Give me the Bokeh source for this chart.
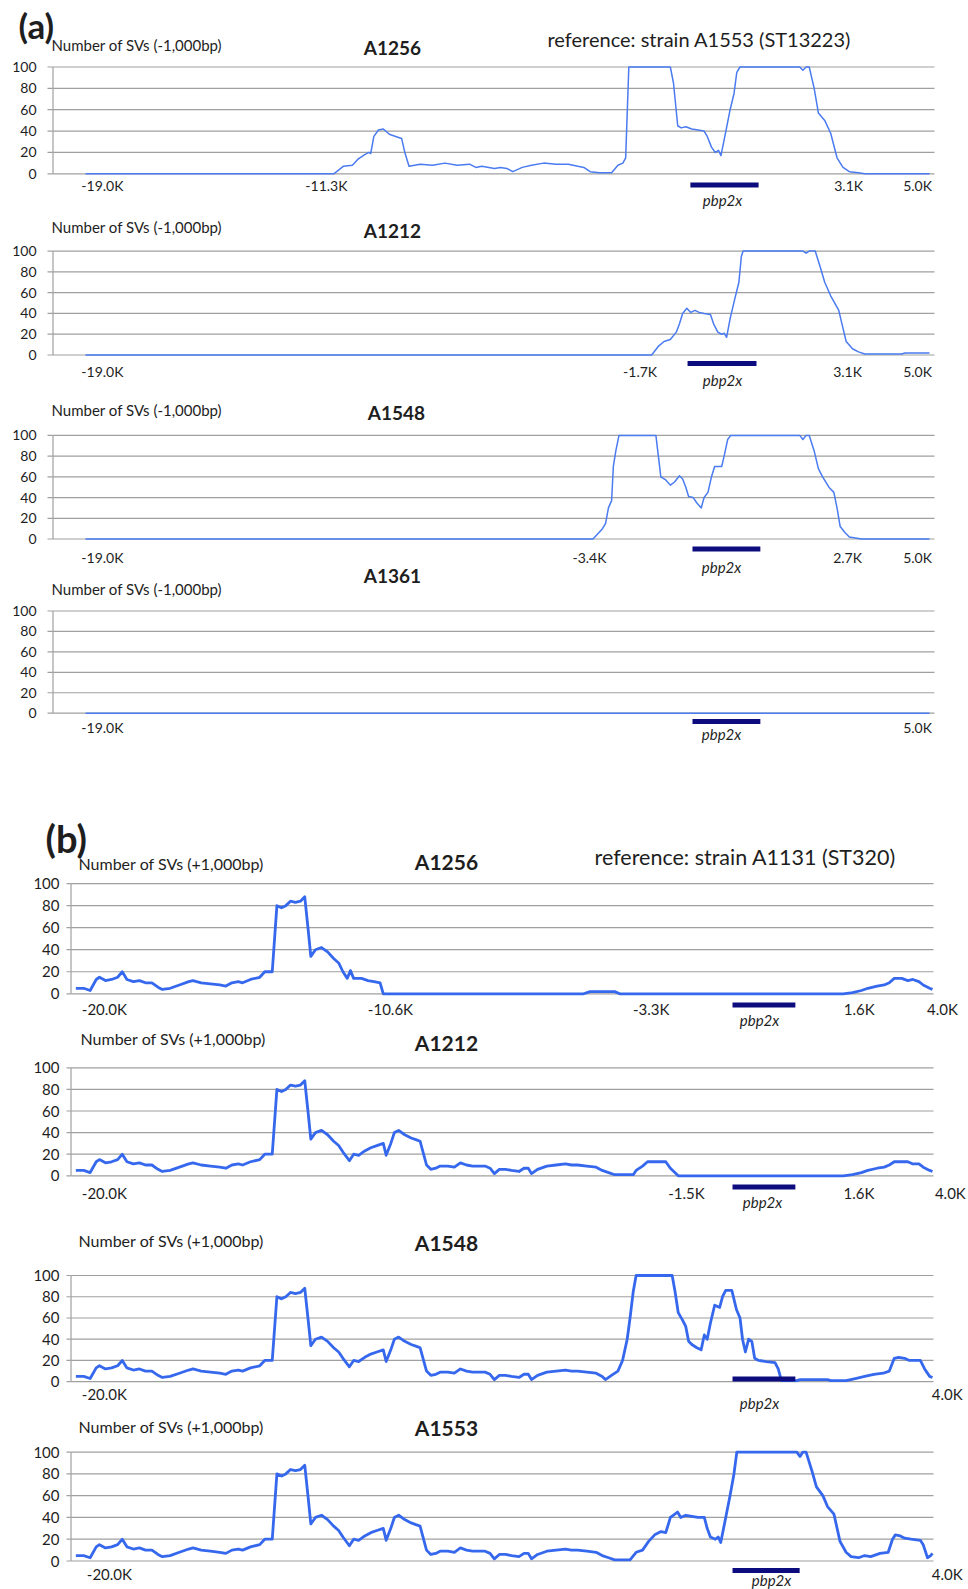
from bokeh.plotting import figure
from bokeh.models import Range1d
from bokeh.core.properties import value
from bokeh.embed import file_html
from bokeh.resources import INLINE

# ---------------- DATA ----------------
# x = 100-bp window index along the region (0 = left end of the plotted region)
# (a) reference: strain A1553 (ST13223), "-1,000bp"
A1256_A_X = [0, 70.6, 73.3, 75.9, 77.6, 79.4, 80.6, 81.1, 82.0, 83.3, 84.7, 86.4, 88.2, 89.9, 90.8, 92.0,
             95.2, 98.7, 102.2, 105.7, 109.2, 111.0, 112.7, 116.3, 118.0, 119.8, 121.5, 124.2, 126.8, 130.3,
             133.8, 137.3, 140.0, 141.7, 143.5, 146.1, 149.6, 151.4, 152.8, 153.6, 154.5, 166.3, 167.2, 168.4,
             169.4, 170.7, 172.4, 174.2, 175.9, 176.8, 178.0, 179.1, 180.0, 180.7, 182.1, 183.3, 184.4, 185.2,
             186.1, 203.1, 204.0, 204.9, 205.8, 207.2, 208.4, 210.2, 211.9, 213.7, 215.4, 217.2, 219.8, 221.6, 240]
A1256_A_Y = [0, 0, 7, 8, 14, 18, 20, 19, 35, 41, 42, 37, 35, 33, 20, 7,
             9, 8, 10, 8, 9, 6, 7, 5, 6, 5, 2, 6, 8, 10,
             9, 9, 7, 6, 2, 1, 1, 8, 10, 15, 100, 100, 85, 45,
             43, 44, 42, 41, 40, 35, 25, 20, 22, 17, 40, 60, 75, 95,
             100, 100, 97, 100, 100, 80, 57, 50, 38, 15, 6, 2, 1, 0, 0]

A1212_A_X = [0, 161.0, 162.8, 164.5, 166.3, 168.0, 168.9, 169.8, 171.0, 172.1, 173.3, 174.5, 175.9, 177.7,
             178.6, 179.8, 180.9, 181.6, 182.3, 183.3, 184.7, 185.8, 186.5, 187.0, 204.0, 204.9, 205.8, 207.5,
             208.9, 210.2, 211.9, 214.2, 215.1, 216.3, 218.1, 219.8, 221.6, 225.1, 232.1, 233.0, 240]
A1212_A_Y = [0, 0, 8, 13, 15, 22, 30, 40, 45, 41, 43, 41, 40, 39,
             30, 22, 20, 21, 17, 35, 55, 70, 95, 100, 100, 98, 100, 100,
             85, 70, 57, 43, 30, 13, 6, 3, 1, 1, 1, 2, 2]

A1548_A_X = [0, 144.3, 145.7, 147.0, 147.9, 148.7, 149.6, 150.1, 150.8, 151.7, 162.2, 162.9, 163.6, 165.0,
             166.3, 167.5, 168.9, 169.8, 170.7, 171.5, 172.8, 173.8, 175.1, 175.9, 177.0, 178.0, 178.9, 180.9,
             181.6, 182.6, 183.5, 203.1, 204.0, 204.9, 205.8, 207.2, 208.4, 209.6, 211.4, 212.8, 213.7, 214.6,
             216.0, 217.2, 218.9, 220.7, 240]
A1548_A_Y = [0, 0, 5, 10, 15, 30, 37, 70, 85, 100, 100, 80, 60, 57,
             52, 55, 61, 58, 50, 41, 40, 35, 30, 40, 45, 60, 70, 70,
             80, 96, 100, 100, 96, 100, 100, 85, 68, 60, 50, 45, 30, 12,
             6, 2, 1, 0, 0]

A1361_A_X = [0, 240]
A1361_A_Y = [0, 0]

A_SAMPLES = ["A1256", "A1212", "A1548", "A1361"]
A_TICK_LABELS = [["-19.0K", "-11.3K", "3.1K", "5.0K"],
                 ["-19.0K", "-1.7K", "3.1K", "5.0K"],
                 ["-19.0K", "-3.4K", "2.7K", "5.0K"],
                 ["-19.0K", "5.0K"]]
A_TICK_POS = [[4.8, 68.5, 217.0, 236.6],
              [4.8, 157.7, 216.7, 236.6],
              [4.8, 143.3, 216.7, 236.6],
              [4.8, 236.6]]
A_GENE = [[172.0, 191.4], [171.2, 190.8], [172.6, 191.9], [172.6, 191.9]]

# (b) reference: strain A1131 (ST320), "+1,000bp"
A1256_B_X = [0.1, 2.3, 4.1, 5.8, 6.7, 8.4, 10.1, 11.8, 13.1, 14.4, 16.2, 17.9, 19.6, 21.4, 23.1, 24.3, 26.5,
             29.1, 31.7, 32.9, 35.2, 37.8, 40.4, 42.1, 43.8, 45.6, 46.8, 49.0, 51.6, 53.0, 55.1, 56.4, 57.7,
             58.9, 60.2, 61.6, 63.0, 64.2, 65.1, 65.9, 67.2, 68.9, 70.6, 72.3, 73.7, 74.9, 76.1, 77.0, 77.9,
             80.1, 81.9, 83.6, 85.3, 86.2, 142.3, 144.1, 151.0, 152.4, 215.0, 217.6, 220.1, 221.9, 224.5,
             226.5, 227.9, 229.3, 231.4, 233.1, 234.5, 236.2, 237.4, 239.2, 240.0]
A1256_B_Y = [5, 5, 3, 13, 15, 12, 13, 15, 20, 13, 11, 12, 10, 10, 6, 4, 5,
             8, 11, 12, 10, 9, 8, 7, 10, 11, 10, 13, 15, 20, 20, 80, 78,
             80, 84, 83, 84, 88, 60, 34, 40, 42, 38, 32, 28, 20, 14, 21, 14,
             14, 12, 11, 10, 0, 0, 2, 2, 0, 0, 1, 3, 5, 7,
             8, 10, 14, 14, 12, 13, 11, 8, 5, 4]

A1212_B_X = [0.1, 2.3, 4.1, 5.8, 6.7, 8.4, 10.1, 11.8, 13.1, 14.4, 16.2, 17.9, 19.6, 21.4, 23.1, 24.3, 26.5,
             29.1, 31.7, 32.9, 35.2, 37.8, 40.4, 42.1, 43.8, 45.6, 46.8, 49.0, 51.6, 53.0, 55.1, 56.4, 57.7,
             58.9, 60.2, 61.6, 63.0, 64.2, 65.1, 65.9, 67.2, 68.9, 70.6, 72.3, 73.7, 74.9, 76.7, 77.9, 79.3,
             81.0, 82.7, 84.4, 86.2, 87.0, 88.3, 89.3, 90.5, 92.2, 94.0, 95.7, 96.5, 98.3, 99.5, 100.9, 102.1,
             104.3, 106.1, 107.8, 109.5, 111.2, 113.0, 114.7, 116.1, 117.3, 118.7, 120.4, 122.1, 124.2, 125.6,
             126.8, 127.7, 129.4, 132.0, 134.6, 137.2, 138.9, 140.6, 143.2, 145.8, 147.5, 149.3, 151.0, 153.6,
             156.2, 157.0, 158.8, 160.2, 165.3, 166.6, 168.8, 215.0, 217.6, 220.1, 221.9, 224.5, 226.5, 227.9,
             229.3, 233.1, 234.5, 236.2, 237.4, 239.2, 240.0]
A1212_B_Y = [5, 5, 3, 13, 15, 12, 13, 15, 20, 13, 11, 12, 10, 10, 6, 4, 5,
             8, 11, 12, 10, 9, 8, 7, 10, 11, 10, 13, 15, 20, 20, 80, 78,
             80, 84, 83, 84, 88, 60, 34, 40, 42, 38, 32, 28, 22, 14, 20, 19,
             23, 26, 28, 30, 19, 30, 40, 42, 38, 35, 33, 32, 10, 6, 7, 9,
             9, 8, 12, 10, 9, 9, 9, 7, 2, 6, 6, 5, 4, 7,
             7, 2, 6, 9, 10, 11, 10, 10, 9, 8, 5, 3, 1, 1,
             1, 5, 9, 13, 13, 7, 0, 0, 1, 3, 5, 7, 8, 10,
             13, 13, 11, 11, 8, 5, 4]

A1548_B_X = [0.1, 2.3, 4.1, 5.8, 6.7, 8.4, 10.1, 11.8, 13.1, 14.4, 16.2, 17.9, 19.6, 21.4, 23.1, 24.3, 26.5,
             29.1, 31.7, 32.9, 35.2, 37.8, 40.4, 42.1, 43.8, 45.6, 46.8, 49.0, 51.6, 53.0, 55.1, 56.4, 57.7,
             58.9, 60.2, 61.6, 63.0, 64.2, 65.1, 65.9, 67.2, 68.9, 70.6, 72.3, 73.7, 74.9, 76.7, 77.9, 79.3,
             81.0, 82.7, 84.4, 86.2, 87.0, 88.3, 89.3, 90.5, 92.2, 94.0, 95.7, 96.5, 98.3, 99.5, 100.9, 102.1,
             104.3, 106.1, 107.8, 109.5, 111.2, 113.0, 114.7, 116.1, 117.3, 118.7, 120.4, 122.1, 124.2, 125.6,
             126.8, 127.7, 129.4, 132.0, 134.6, 137.2, 138.9, 140.6, 143.2, 145.8,
             147.5, 148.4, 150.1, 151.9, 153.2, 154.5, 155.3, 156.2, 157.0, 167.1, 167.9, 168.8, 170.0, 170.9,
             171.7, 172.6, 174.0, 175.2, 176.1, 176.9, 177.8, 179.0, 180.4, 181.2, 182.1, 183.8, 185.1, 186.1,
             186.8, 187.6, 188.5, 189.4, 190.2, 191.3, 193.4, 195.9, 196.8, 197.7, 202.0, 202.9, 210.6, 211.5,
             215.8, 218.4, 221.0, 223.6, 226.2, 227.9, 229.3, 230.5, 232.2, 233.5, 236.6, 237.8, 239.2, 240.0]
A1548_B_Y = [5, 5, 3, 13, 15, 12, 13, 15, 20, 13, 11, 12, 10, 10, 6, 4, 5,
             8, 11, 12, 10, 9, 8, 7, 10, 11, 10, 13, 15, 20, 20, 80, 78,
             80, 84, 83, 84, 88, 60, 34, 40, 42, 38, 32, 28, 22, 14, 20, 19,
             23, 26, 28, 30, 19, 30, 40, 42, 38, 35, 33, 32, 10, 6, 7, 9,
             9, 8, 12, 10, 9, 9, 9, 7, 2, 6, 6, 5, 4, 7,
             7, 2, 6, 9, 10, 11, 10, 10, 9, 8,
             5, 2, 6, 10, 20, 40, 60, 85, 100, 100, 85, 65, 58, 52,
             38, 35, 32, 30, 44, 40, 55, 72, 70, 80, 86, 86, 68, 60,
             40, 28, 40, 38, 22, 20, 19, 18, 12, 1, 1, 2, 2, 1,
             1, 3, 5, 7, 8, 10, 22, 23, 22, 20, 20, 12, 5, 4]

A1553_B_X = [0.1, 2.3, 4.1, 5.8, 6.7, 8.4, 10.1, 11.8, 13.1, 14.4, 16.2, 17.9, 19.6, 21.4, 23.1, 24.3, 26.5,
             29.1, 31.7, 32.9, 35.2, 37.8, 40.4, 42.1, 43.8, 45.6, 46.8, 49.0, 51.6, 53.0, 55.1, 56.4, 57.7,
             58.9, 60.2, 61.6, 63.0, 64.2, 65.1, 65.9, 67.2, 68.9, 70.6, 72.3, 73.7, 74.9, 76.7, 77.9, 79.3,
             81.0, 82.7, 84.4, 86.2, 87.0, 88.3, 89.3, 90.5, 92.2, 94.0, 95.7, 96.5, 98.3, 99.5, 100.9, 102.1,
             104.3, 106.1, 107.8, 109.5, 111.2, 113.0, 114.7, 116.1, 117.3, 118.7, 120.4, 122.1, 124.2, 125.6,
             126.8, 127.7, 129.4, 132.0, 134.6, 137.2, 138.9, 140.6, 143.2, 145.8, 147.5,
             149.3, 151.0, 153.6, 155.3, 157.0, 158.8, 160.5, 162.2, 164.0, 165.3, 166.6, 167.4, 168.6, 169.5,
             170.9, 172.6, 174.3, 176.1, 176.9, 177.8, 179.2, 180.0, 180.7, 182.1, 183.3, 184.4, 185.2, 202.0,
             202.9, 203.7, 204.6, 206.3, 207.5, 209.3, 210.6, 212.4, 214.1, 215.8, 217.2, 219.3, 221.0, 222.7,
             225.3, 227.6, 228.8, 229.6, 231.0, 232.2, 234.0, 236.6, 237.4, 238.6, 239.5, 240.0]
A1553_B_Y = [5, 5, 3, 13, 15, 12, 13, 15, 20, 13, 11, 12, 10, 10, 6, 4, 5,
             8, 11, 12, 10, 9, 8, 7, 10, 11, 10, 13, 15, 20, 20, 80, 78,
             80, 84, 83, 84, 88, 60, 34, 40, 42, 38, 32, 28, 22, 14, 20, 19,
             23, 26, 28, 30, 19, 30, 40, 42, 38, 35, 33, 32, 10, 6, 7, 9,
             9, 8, 12, 10, 9, 9, 9, 7, 2, 6, 6, 5, 4, 7,
             7, 2, 6, 9, 10, 11, 10, 10, 9, 8, 5,
             3, 1, 1, 1, 8, 10, 18, 24, 27, 26, 40, 42, 45, 40,
             42, 41, 40, 40, 30, 22, 20, 22, 17, 40, 60, 80, 100, 100,
             96, 100, 100, 82, 68, 60, 50, 43, 18, 8, 4, 3, 5, 4,
             7, 8, 20, 24, 23, 21, 20, 19, 15, 3, 5, 7]

B_SAMPLES = ["A1256", "A1212", "A1548", "A1553"]
B_TICK_LABELS = [["-20.0K", "-10.6K", "-3.3K", "1.6K", "4.0K"],
                 ["-20.0K", "-1.5K", "1.6K", "4.0K"],
                 ["-20.0K", "4.0K"],
                 ["-20.0K", "4.0K"]]
B_TICK_POS = [[8.1, 88.2, 161.2, 219.5, 242.8],
              [8.1, 171.1, 219.4, 245.0],
              [8.1, 244.1],
              [9.5, 244.1]]
B_GENE = [[184.0, 201.6], [184.0, 201.6], [184.0, 201.6], [184.0, 202.8]]

Y_TICKS = [0, 20, 40, 60, 80, 100]
Y_TICK_LABELS = ["0", "20", "40", "60", "80", "100"]
GENE_NAME = "pbp2x"
Y_LABEL_A = "Number of SVs (-1,000bp)"
Y_LABEL_B = "Number of SVs (+1,000bp)"
REF_A = "reference:  strain A1553 (ST13223)"
REF_B = "reference:  strain A1131 (ST320)"

A_SERIES = [(A1256_A_X, A1256_A_Y), (A1212_A_X, A1212_A_Y), (A1548_A_X, A1548_A_Y), (A1361_A_X, A1361_A_Y)]
B_SERIES = [(A1256_B_X, A1256_B_Y), (A1212_B_X, A1212_B_Y), (A1548_B_X, A1548_B_Y), (A1553_B_X, A1553_B_Y)]

# ---------------- STYLE / LAYOUT (page pixels) ----------------
FONT = "Lato"
TEXT_C = "#1e1e1e"
GRID_C = "#a0a0a0"
BAR_C = "#0c0c7e"
W, H = 968, 1589

GROUP_A = dict(key="a", frame_x=(52, 934), x0px=85.0, pxper=3.5167, line_w=1.5, line_c="#4a7bf0",
               tick_fs="14px", tick_gap=11, tick_out=5, ylab_fs="15px", title_fs="19px",
               ref_fs="20px", gene_fs="15px", xlab_fs="14px", letter_fs="35px", ylab=Y_LABEL_A, ref=REF_A,
               letter="(a)")
GROUP_B = dict(key="b", frame_x=(70, 933), x0px=75.0, pxper=3.5708, line_w=2.8, line_c="#3668ee",
               tick_fs="15px", tick_gap=7, tick_out=4, ylab_fs="16px", title_fs="21px",
               ref_fs="21.5px", gene_fs="15px", xlab_fs="15px", letter_fs="38px", ylab=Y_LABEL_B, ref=REF_B,
               letter="(b)")

LAYOUT_A = [
    dict(y100=66.5, y0=173.3, xlab_y=185, bar_y=184.5, gene_lbl=(722, 199),
         ylab=(51, 44), title=(392, 47), ref=(547, 38.5), letter=(18, 24)),
    dict(y100=250.6, y0=354.5, xlab_y=371, bar_y=363, gene_lbl=(722, 379.5),
         ylab=(51, 226.5), title=(392, 230)),
    dict(y100=434.9, y0=538.5, xlab_y=556.5, bar_y=548.5, gene_lbl=(721, 566),
         ylab=(51, 409), title=(396, 412)),
    dict(y100=610.5, y0=712.7, xlab_y=726.5, bar_y=721, gene_lbl=(721, 733),
         ylab=(51, 588), title=(392, 575)),
]
LAYOUT_B = [
    dict(y100=883.1, y0=993.3, xlab_y=1008.5, bar_y=1004.5, gene_lbl=(759, 1019),
         ylab=(78, 863), title=(446, 861), ref=(594, 856), letter=(45, 837)),
    dict(y100=1067.3, y0=1175.3, xlab_y=1192.5, bar_y=1186.5, gene_lbl=(762, 1201),
         ylab=(80, 1038), title=(446, 1042)),
    dict(y100=1275, y0=1381.2, xlab_y=1393, bar_y=1378.5, gene_lbl=(759, 1402),
         ylab=(78, 1240), title=(446, 1242)),
    dict(y100=1451.6, y0=1560.5, xlab_y=1573.5, bar_y=1570, gene_lbl=(771, 1579),
         ylab=(78, 1426), title=(446, 1427)),
]

# one canvas: default ranges are page pixels (for titles), each panel has its own data scales
p = figure(width=W, height=H, x_range=Range1d(0, W), y_range=Range1d(H, 0),
           output_backend="svg", toolbar_location=None, title=None,
           x_axis_location=None, y_axis_location=None, min_border=0)
p.min_border_left = p.min_border_right = p.min_border_top = p.min_border_bottom = 0
p.outline_line_color = None
p.background_fill_color = "white"
p.border_fill_color = "white"
p.grid.visible = False


def xmap(g):
    return lambda px: (px - g["x0px"]) / g["pxper"]


for g in (GROUP_A, GROUP_B):
    xd = xmap(g)
    p.extra_x_ranges[g["key"]] = Range1d(xd(0), xd(W))


def add_text(x, y, text, size, align="left", style="normal", **kw):
    p.text(x=x, y=y, text=text, text_font=value(FONT), text_font_size=value(size),
           text_font_style=style, text_align=align, text_baseline="middle", text_color=TEXT_C, **kw)


def draw_panel(g, L, idx, series, name, tick_labels, tick_pos, gene):
    fl, fr = g["frame_x"]
    xd = xmap(g)
    y100, y0 = L["y100"], L["y0"]
    scale = (y0 - y100) / 100.0
    yname = "%s%d" % (g["key"], idx)
    p.extra_y_ranges[yname] = Range1d((y0 - H) / scale, y0 / scale)
    n = len(Y_TICKS)

    # gridlines (0..100) and value axis
    p.segment(x0=[xd(fl)] * n, y0=Y_TICKS, x1=[xd(fr)] * n, y1=Y_TICKS, line_color=GRID_C,
              line_width=1.2, x_range_name=g["key"], y_range_name=yname)
    p.segment(x0=[fl + 0.5], y0=[Y_TICKS[0]], x1=[fl + 0.5], y1=[Y_TICKS[-1]], line_color=GRID_C,
              line_width=1.2, y_range_name=yname)
    p.segment(x0=[fl - g["tick_out"]] * n, y0=Y_TICKS, x1=[fl] * n, y1=Y_TICKS, line_color=GRID_C,
              line_width=1.2, y_range_name=yname)
    add_text([fl - g["tick_out"] - g["tick_gap"]] * n, Y_TICKS, Y_TICK_LABELS, g["tick_fs"],
             align="right", y_range_name=yname)

    # the series
    xs, ys = series
    p.line(x=xs, y=ys, line_color=g["line_c"], line_width=g["line_w"], line_join="round",
           x_range_name=g["key"], y_range_name=yname)

    # position labels along the region
    add_text(tick_pos, [L["xlab_y"]] * len(tick_pos), tick_labels, g["xlab_fs"], align="center",
             x_range_name=g["key"])
    # gene bar + name
    p.quad(left=[gene[0]], right=[gene[1]], top=[L["bar_y"] - 2.6], bottom=[L["bar_y"] + 2.6],
           fill_color=BAR_C, line_color=None, x_range_name=g["key"])
    add_text([L["gene_lbl"][0]], [L["gene_lbl"][1]], [GENE_NAME], g["gene_fs"], align="center",
             style="italic")

    # panel texts
    add_text([L["ylab"][0]], [L["ylab"][1]], [g["ylab"]], g["ylab_fs"])
    add_text([L["title"][0]], [L["title"][1]], [name], g["title_fs"], align="center", style="bold")
    if "ref" in L:
        add_text([L["ref"][0]], [L["ref"][1]], [g["ref"]], g["ref_fs"])
    if "letter" in L:
        add_text([L["letter"][0]], [L["letter"][1]], [g["letter"]], g["letter_fs"], style="bold")


for i in range(4):
    draw_panel(GROUP_A, LAYOUT_A[i], i, A_SERIES[i], A_SAMPLES[i], A_TICK_LABELS[i], A_TICK_POS[i], A_GENE[i])
for i in range(4):
    draw_panel(GROUP_B, LAYOUT_B[i], i, B_SERIES[i], B_SAMPLES[i], B_TICK_LABELS[i], B_TICK_POS[i], B_GENE[i])

open("out.html", "w").write(file_html(p, INLINE))
